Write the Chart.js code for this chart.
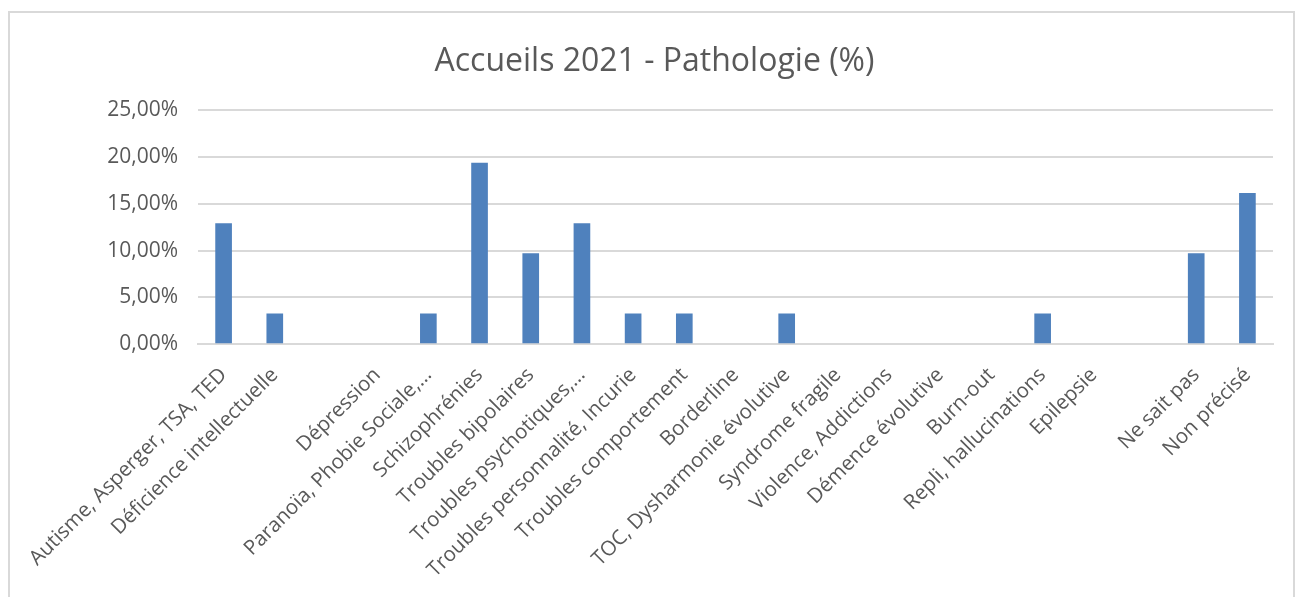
<!DOCTYPE html>
<html>
<head>
<meta charset="utf-8">
<script src="https://cdn.jsdelivr.net/npm/chart.js@4/dist/chart.umd.min.js"></script>
<style>
  html, body { margin: 0; padding: 0; background: #fff; }
  #wrap { position: relative; width: 1301px; height: 597px; overflow: hidden; }
  #frame { position: absolute; left: 8px; top: 11px; width: 1287px; height: 600px; border: 2px solid #d9d9d9; box-sizing: border-box; }
  canvas { position: absolute; left: 0; top: 0; }
</style>
</head>
<body>
<div id="wrap">
  <div id="frame"></div>
  <canvas id="c" width="1301" height="597"></canvas>
</div>
<script>
const categories = [
  "Autisme, Asperger, TSA, TED",
  "Déficience intellectuelle",
  "",
  "Dépression",
  "Paranoïa, Phobie Sociale,…",
  "Schizophrénies",
  "Troubles bipolaires",
  "Troubles psychotiques,…",
  "Troubles personnalité, Incurie",
  "Troubles comportement",
  "Borderline",
  "TOC, Dysharmonie évolutive",
  "Syndrome fragile",
  "Violence, Addictions",
  "Démence évolutive",
  "Burn-out",
  "Repli, hallucinations",
  "Epilepsie",
  "",
  "Ne sait pas",
  "Non précisé"
];
const values = [12.90, 3.23, 0, 0, 3.23, 19.35, 9.68, 12.90, 3.23, 3.23, 0, 3.23, 0, 0, 0, 0, 3.23, 0, 0, 9.68, 16.13];
const yTicks = [0, 5, 10, 15, 20, 25];
const titleText = "Accueils 2021 - Pathologie (%)";

const FONT = "'Open Sans', 'Noto Sans', sans-serif";
const GRAY = "#595959";

new Chart(document.getElementById('c'), {
  type: 'bar',
  data: {
    labels: categories,
    datasets: [{
      data: values,
      backgroundColor: (ctx) => (ctx.raw ? '#4f81bd' : 'rgba(0,0,0,0)'),
      borderWidth: 0,
      barThickness: 16
    }]
  },
  options: {
    responsive: false,
    animation: false,
    layout: { padding: { left: 36, right: 28, top: 0, bottom: 0 } },
    plugins: {
      legend: { display: false },
      tooltip: { enabled: false },
      title: {
        display: true,
        text: titleText,
        color: GRAY,
        font: { family: FONT, size: 32, weight: 'normal' },
        padding: { top: 43, bottom: 29 }
      }
    },
    scales: {
      x: {
        grid: { display: false },
        border: { display: true, color: '#d9d9d9', width: 2 },
        ticks: {
          color: GRAY,
          font: { family: FONT, size: 20.5 },
          minRotation: 45,
          maxRotation: 45,
          autoSkip: false,
          padding: 11
        },
        afterFit: (s) => { s.height = 253; }
      },
      y: {
        min: 0,
        max: 25,
        afterBuildTicks: (s) => { s.ticks = yTicks.map(v => ({ value: v })); },
        grid: { color: '#d9d9d9', lineWidth: 2, drawTicks: false },
        border: { display: false },
        ticks: {
          color: GRAY,
          font: { family: FONT, size: 21 },
          padding: 20,
          callback: (v) => v.toFixed(2).replace('.', ',') + '%'
        },
        afterFit: (s) => { s.width = 162; }
      }
    }
  }
});
</script>
</body>
</html>
